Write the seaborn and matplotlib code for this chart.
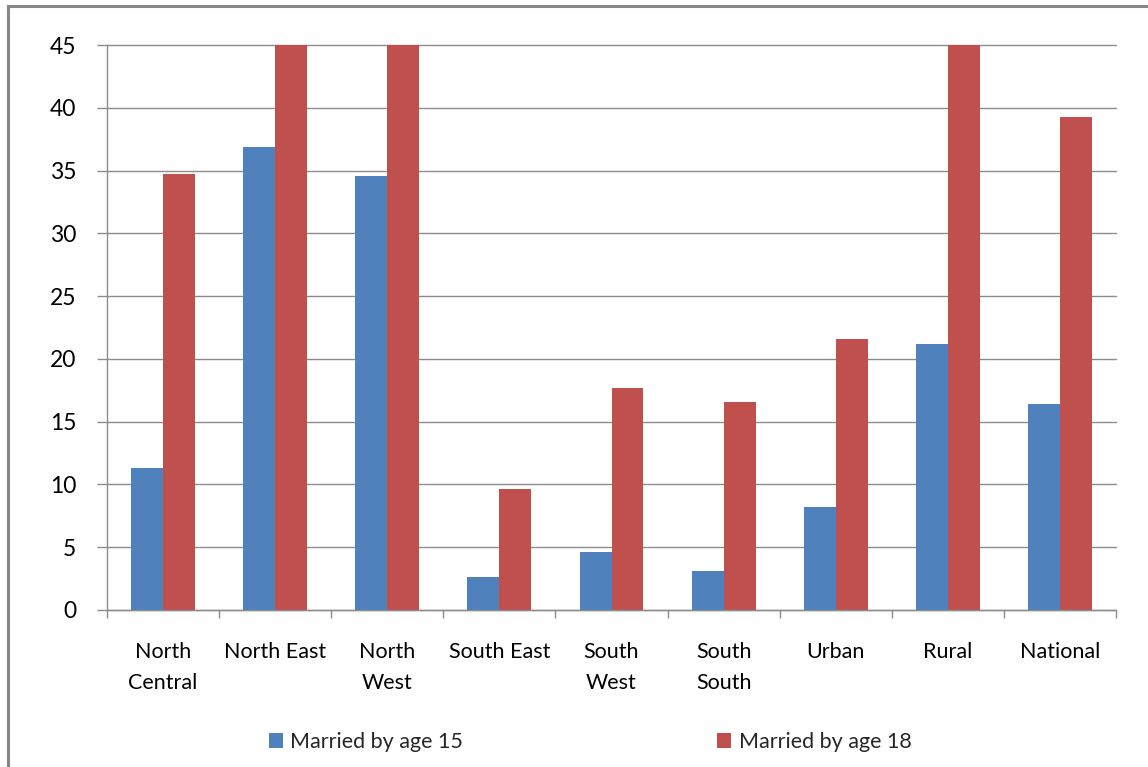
import matplotlib
matplotlib.use("Agg")
import matplotlib.pyplot as plt
import matplotlib.patches as mpatches
import seaborn as sns
import pandas as pd
import numpy as np

categories = ["North\nCentral", "North East", "North\nWest", "South East", "South\nWest",
              "South\nSouth", "Urban", "Rural", "National"]
married_15 = [11.3, 36.9, 34.6, 2.6, 4.6, 3.1, 8.2, 21.2, 16.4]
married_18 = [34.7, 68.0, 76.0, 9.6, 17.7, 16.6, 21.6, 48.0, 39.3]
series_names = ["Married by age 15", "Married by age 18"]
y_ticks = [0, 5, 10, 15, 20, 25, 30, 35, 40, 45]

df = pd.DataFrame({
    "category": categories * 2,
    "value": married_15 + married_18,
    "series": [series_names[0]] * len(categories) + [series_names[1]] * len(categories),
})

sns.set_theme(style="white")
plt.rcParams["font.family"] = ["Lato", "DejaVu Sans"]

W, H = 1148, 767
fig = plt.figure(figsize=(W / 100, H / 100), dpi=100)
ax = fig.add_axes([107 / W, 1 - 610 / H, (1116 - 107) / W, (610 - 45) / H])

palette = {series_names[0]: "#4F81BD", series_names[1]: "#C0504D"}
sns.barplot(data=df, x="category", y="value", hue="series", palette=palette,
            width=0.57, ax=ax, saturation=1, edgecolor="none", linewidth=0, legend=True)

ax.set_ylim(0, 45)
ax.set_xlim(-0.5, len(categories) - 0.5)
ax.set_yticks(y_ticks)
ax.set_yticklabels([str(t) for t in y_ticks], fontsize=16.5, color="#000000")
ax.yaxis.grid(True, color="#8c8c8c", linewidth=1)
ax.set_axisbelow(True)
for gl in ax.get_ygridlines():
    gl.set_clip_on(False)
ax.tick_params(axis="y", length=7, width=1, color="#8c8c8c", direction="out", pad=15, left=True)

ax.set_xticks(range(len(categories)))
ax.set_xticklabels(categories, fontsize=15.5, color="#000000", linespacing=1.68, va="top")
ax.tick_params(axis="x", which="major", length=0, pad=23)
ax.set_xticks(np.arange(-0.5, len(categories), 1), minor=True)
ax.tick_params(axis="x", which="minor", length=6, width=1, color="#8c8c8c", direction="out", bottom=True)
ax.set_xlabel("")
ax.set_ylabel("")

for s in ["top", "right"]:
    ax.spines[s].set_visible(False)
for s in ["left", "bottom"]:
    ax.spines[s].set_color("#8c8c8c")
    ax.spines[s].set_linewidth(1)

handles, labels = ax.get_legend_handles_labels()
ax.get_legend().remove()
fig.legend(handles, labels, ncol=2, loc="center", bbox_to_anchor=(590 / W, 1 - 742 / H),
           frameon=False, fontsize=15.5, handlelength=0.65, handleheight=0.65,
           handletextpad=0.35, columnspacing=11.8)

border = mpatches.Rectangle((8 / W, -0.05), 1.2, 1 - 6 / H + 0.05, transform=fig.transFigure,
                            fill=False, edgecolor="#868686", linewidth=2.2)
fig.patches.append(border)

fig.savefig("out.png", dpi=100)
